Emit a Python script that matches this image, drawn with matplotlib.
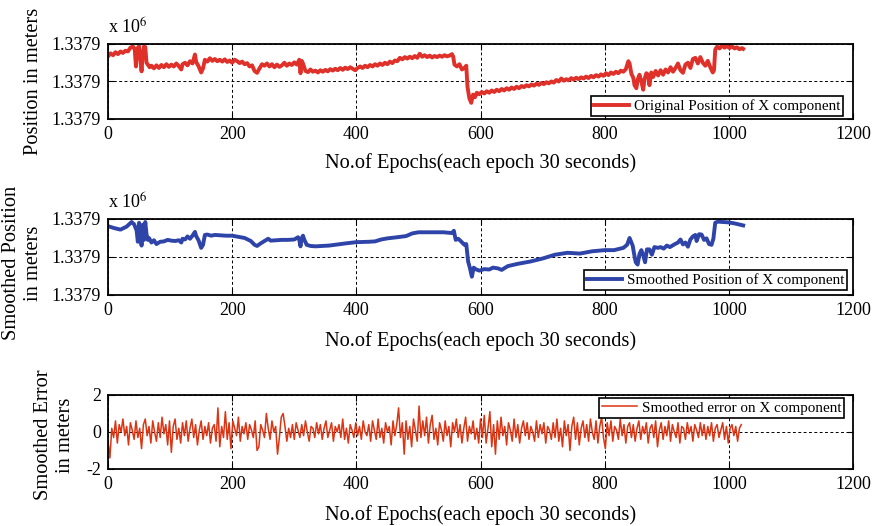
import numpy as np
import matplotlib
matplotlib.use("Agg")
import matplotlib.pyplot as plt
from matplotlib.ticker import FuncFormatter

plt.rcParams["font.family"] = ["Liberation Serif", "DejaVu Serif"]
plt.rcParams["mathtext.fontset"] = "stix"
plt.rcParams["axes.unicode_minus"] = False

# ---------------------------------------------------------------------------
# Data (positions as metres above BASE, error in metres)
# ---------------------------------------------------------------------------
BASE = 1337890.0

orig_epoch = [
    0, 4, 8, 12, 16, 20, 24, 28, 32, 36, 40, 43, 45, 47, 50, 52, 54, 56, 58, 60,
    62, 64, 67, 70, 74, 78, 82, 86, 90, 94, 98, 102, 106, 110, 114, 118, 120, 124, 128, 132,
    136, 140, 142, 146, 150, 153, 156, 160, 164, 168, 172, 176, 180, 184, 188, 192, 196, 200, 204, 208,
    212, 216, 220, 224, 228, 232, 236, 240, 244, 248, 252, 256, 260, 264, 268, 272, 276, 280, 284, 288,
    292, 296, 300, 304, 308, 310, 312, 314, 318, 322, 326, 330, 334, 338, 342, 346, 350, 354, 358, 362,
    366, 370, 374, 378, 382, 386, 390, 394, 398, 402, 406, 410, 414, 418, 422, 426, 430, 434, 438, 442,
    446, 450, 454, 458, 462, 466, 470, 474, 478, 482, 486, 490, 494, 498, 502, 506, 510, 514, 518, 522,
    526, 530, 534, 538, 542, 546, 550, 554, 556, 558, 562, 566, 570, 574, 577, 579, 582, 585, 588, 591,
    594, 598, 602, 606, 610, 614, 618, 622, 626, 630, 634, 638, 642, 646, 650, 654, 658, 662, 666, 670,
    674, 678, 682, 686, 690, 694, 698, 702, 706, 710, 714, 718, 722, 726, 730, 734, 738, 742, 746, 750,
    754, 758, 762, 766, 770, 774, 778, 782, 786, 790, 794, 798, 802, 806, 810, 814, 818, 822, 826, 830,
    834, 838, 840, 843, 846, 848, 851, 853, 856, 859, 862, 864, 867, 870, 872, 875, 878, 882, 886, 890,
    894, 898, 902, 906, 910, 914, 918, 922, 926, 930, 934, 938, 942, 946, 950, 954, 958, 962, 966, 970,
    974, 976, 978, 981, 985, 989, 993, 997, 1001, 1005, 1009, 1013, 1017, 1021, 1023,
]
orig_pos = [
    16.7, 17.5, 17.0, 17.8, 17.3, 18.0, 17.6, 18.2, 18.0, 19.0, 19.4, 18.5, 14.0, 18.8, 19.4, 16.0, 12.7, 17.5, 19.4, 19.2,
    15.0, 14.5, 13.8, 14.2, 13.5, 14.3, 13.6, 14.4, 13.8, 14.6, 13.9, 14.5, 14.0, 14.8, 14.1, 13.2, 14.6, 15.0, 14.3, 15.4,
    14.8, 17.2, 15.2, 14.0, 12.4, 13.5, 15.8, 15.3, 16.2, 15.5, 16.0, 15.4, 15.8, 15.3, 15.9, 15.2, 15.6, 15.0, 15.8, 15.4,
    14.9, 15.3, 14.6, 14.9, 14.0, 14.3, 12.8, 12.3, 13.5, 14.6, 14.2, 14.8, 14.0, 14.6, 13.8, 14.5, 13.9, 14.3, 15.0, 14.2,
    14.8, 14.4, 15.1, 14.5, 15.8, 12.2, 15.5, 14.8, 12.8, 12.5, 13.2, 12.6, 12.9, 12.4, 13.0, 12.6, 13.1, 12.7, 13.3, 12.9,
    13.4, 13.0, 13.6, 13.1, 13.7, 13.3, 13.8, 13.4, 13.0, 13.6, 14.0, 13.6, 14.2, 13.8, 14.4, 14.0, 14.6, 14.2, 14.8, 14.4,
    15.0, 14.6, 15.3, 14.9, 15.6, 15.4, 16.3, 15.9, 16.5, 16.1, 16.6, 16.2, 16.8, 16.3, 17.4, 16.6, 17.0, 16.5, 16.9, 16.4,
    16.8, 16.5, 16.9, 16.6, 17.0, 16.7, 16.9, 17.3, 16.6, 14.5, 14.0, 14.6, 13.2, 13.6, 14.2, 8.5, 5.5, 4.3, 6.5, 5.8,
    7.0, 6.6, 7.2, 6.8, 7.4, 7.0, 7.6, 7.2, 7.8, 7.4, 8.0, 7.6, 8.2, 7.8, 8.4, 8.0, 8.6, 8.2, 8.8, 8.5,
    9.0, 8.7, 9.2, 8.9, 9.4, 9.1, 9.6, 9.3, 9.8, 9.5, 10.0, 9.7, 10.4, 10.0, 10.8, 10.2, 10.6, 10.3, 10.9, 10.5,
    11.0, 10.6, 11.1, 10.8, 11.3, 10.9, 11.5, 11.1, 11.7, 11.3, 11.9, 11.5, 12.2, 11.7, 12.4, 12.0, 12.6, 12.2, 12.9, 12.6,
    13.3, 15.4, 14.8, 12.0, 11.0, 9.0, 8.2, 10.5, 11.8, 10.0, 7.8, 10.5, 12.2, 11.8, 9.0, 12.4, 11.2, 12.8, 11.6, 13.0,
    11.8, 13.2, 12.4, 13.8, 12.6, 13.6, 14.8, 13.0, 12.3, 14.5, 15.0, 13.6, 16.0, 16.3, 14.8, 16.5, 15.0, 14.2, 15.5, 13.8,
    12.4, 13.0, 18.5, 19.3, 18.8, 19.6, 19.0, 19.5, 18.9, 19.4, 18.8, 19.1, 18.6, 18.9, 18.7,
]

smooth_epoch = [
    0, 10, 20, 30, 38, 42, 46, 48, 50, 52, 54, 56, 58, 60, 62, 64, 66, 70, 74, 78,
    84, 90, 96, 102, 108, 114, 118, 120, 124, 128, 132, 136, 140, 142, 146, 150, 153, 156, 160, 166,
    172, 180, 190, 200, 210, 220, 230, 236, 240, 246, 252, 258, 262, 270, 280, 290, 300, 306, 308, 310,
    312, 314, 316, 320, 326, 334, 344, 356, 370, 384, 400, 420, 430, 440, 450, 466, 480, 490, 500, 520,
    540, 554, 557, 560, 564, 568, 574, 577, 580, 583, 586, 589, 592, 598, 606, 614, 620, 628, 634, 644,
    660, 680, 700, 720, 740, 760, 780, 800, 815, 830, 836, 840, 845, 848, 850, 853, 856, 859, 862, 865,
    868, 872, 876, 880, 886, 890, 895, 900, 905, 912, 918, 922, 926, 930, 934, 938, 942, 946, 948, 952,
    956, 960, 964, 968, 972, 975, 978, 982, 990, 1000, 1010, 1023,
]
smooth_pos = [
    18.1, 17.6, 17.2, 18.0, 19.2, 18.6, 17.0, 14.0, 19.0, 16.5, 13.0, 18.5, 14.5, 19.2, 16.0, 14.5, 15.0, 13.8, 14.4, 13.4,
    14.0, 14.1, 14.5, 14.3, 14.2, 14.4, 13.8, 14.8, 14.6, 15.4, 14.8, 15.6, 16.6, 15.5, 14.3, 12.4, 13.2, 15.8, 15.9, 15.6,
    15.8, 15.7, 15.6, 15.6, 15.3, 15.0, 14.2, 13.2, 12.9, 13.6, 14.2, 14.8, 14.3, 14.4, 14.5, 14.5, 14.6, 15.2, 14.5, 12.8,
    15.0, 15.6, 14.6, 13.2, 12.9, 12.8, 12.9, 13.0, 13.3, 13.6, 13.9, 14.0, 14.1, 14.6, 14.9, 15.2, 15.5, 16.2, 16.5, 16.5,
    16.5, 16.3, 16.9, 14.5, 14.8, 14.2, 13.2, 13.4, 8.8, 7.0, 4.8, 7.2, 6.8, 6.4, 6.8, 6.7, 7.2, 7.0, 6.6, 7.6,
    8.2, 8.8, 9.6, 10.6, 11.1, 10.9, 11.5, 11.8, 11.8, 12.4, 13.2, 15.0, 13.0, 10.2, 8.6, 8.0, 10.8, 11.8, 10.4, 8.6,
    12.0, 12.0, 10.6, 12.6, 12.4, 12.6, 12.2, 13.0, 12.6, 13.3, 13.8, 14.6, 13.3, 13.8, 12.7, 14.6, 15.4, 15.8, 14.2, 16.0,
    15.9, 14.5, 14.9, 13.4, 13.2, 14.8, 19.0, 19.3, 19.2, 19.1, 18.8, 18.3,
]

# smoothed error sampled every 3 epochs (0 .. 1020)
error_epoch = np.arange(0, 1021, 3)
error_m = [
    -0.5, -1.4, 0.2, -0.3, 0.6, -0.6, 0.4, 0.0, 0.7, -0.2, 0.3, -0.7, 0.5, 0.1, -0.4, 0.6, -0.3, 0.2, -0.9, 0.4,
    0.7, -0.2, 0.3, -0.6, 0.6, 0.0, -0.5, 0.5, -0.3, 0.8, -0.1, 0.4, -0.7, 0.6, -1.1, 0.3, 0.7, -0.4, 0.2, -0.6,
    0.5, -0.2, 0.6, -0.5, 0.2, 0.7, -0.3, 0.4, -0.7, 0.1, 0.6, -0.4, 0.3, -0.2, 0.5, -0.6, 0.2, 0.4, -0.5, 1.3,
    -0.8, 0.3, -0.3, 1.1, -0.4, 0.5, -0.9, 0.6, 0.2, -0.2, 0.8, -0.5, 0.3, -0.1, 0.5, -0.4, 0.4, 0.1, -0.3, 0.6,
    -1.0, -0.8, 0.4, 0.1, -0.3, 1.0, 0.2, -0.4, 0.6, 0.0, 0.3, -1.2, -0.3, 0.8, 1.0, 0.3, -0.5, 0.2, -0.3, 0.4,
    -0.4, 0.5, 0.1, -0.3, 0.4, -0.2, 0.6, 0.0, -0.5, 0.3, 0.2, -0.3, 0.5, -0.1, 0.4, -0.4, 0.2, 0.6, -0.3, 0.1,
    0.5, -0.5, 0.3, 0.0, 0.4, -0.3, 0.7, -0.4, 0.2, -0.6, 0.4, 0.1, -0.3, 0.5, -0.2, 0.3, -0.4, 0.6, 0.0, -0.2,
    0.4, -0.5, 0.6, 0.1, -0.4, 0.7, -0.3, 0.2, -0.6, 0.5, 0.0, 0.3, -0.7, 0.6, -0.2, 0.4, 1.3, -0.3, 0.5, -1.2,
    0.6, -0.4, 0.3, -0.8, 0.7, 0.1, -0.5, 1.4, -0.3, 0.6, -0.2, 0.8, -0.6, 0.4, 0.9, -0.4, 0.2, -0.7, 0.5, 0.1,
    -0.5, 0.6, -0.2, 0.3, -0.8, 0.5, 0.0, 0.7, -0.3, 0.4, -0.6, 0.2, 0.8, -0.5, 0.3, -0.1, 0.6, -0.4, 0.2, -0.6,
    0.7, -0.3, 0.9, -0.6, 0.2, 1.1, -0.8, 0.4, -1.2, 0.6, -0.4, 0.8, -0.2, 0.3, -0.7, 0.5, 0.1, -0.5, 0.7, -0.3,
    0.4, -0.6, 0.2, 0.6, -0.2, 0.5, -0.4, 0.3, 0.0, -0.5, 0.6, -0.3, 0.4, -0.1, 0.5, -0.6, 0.3, 0.1, -0.4, 0.5,
    -0.3, 0.7, -0.5, 0.2, -0.8, 0.6, -0.2, 0.4, -1.0, 0.3, 0.8, -0.4, 0.5, -0.7, 0.2, 0.6, -0.3, 0.4, -0.5, 0.7,
    0.0, -0.4, 0.6, -0.6, 0.3, 0.8, -0.3, -0.9, 0.5, -0.2, 0.6, -0.5, 0.3, 0.1, -0.4, 0.7, -0.2, 0.4, -0.6, 0.3,
    0.5, -0.3, 0.4, -0.5, 0.2, 0.6, -0.4, 0.3, -0.1, 0.5, -0.6, 0.2, 0.4, -0.3, 0.6, -0.8, 0.1, 0.5, -0.4, 0.3,
    -0.2, 0.6, -0.5, 0.4, 0.0, -0.3, 0.5, -0.6, 0.3, 0.2, -0.4, 0.5, -0.1, 0.3, -0.5, 0.4, 0.1, -0.3, 0.5, -0.2,
    0.4, -0.4, 0.3, -0.2, 0.5, -0.5, 0.2, 0.4, -0.3, 0.1, 0.5, -0.4, 0.3, -0.6, 0.2, 0.4, -0.2, 0.3, -0.5, 0.2,
    0.4,
]

XLABEL = "No.of Epochs(each epoch 30 seconds)"
LABEL_FS = 14.7
TICK_FS = 13


def style_axes(ax, xlabel_pad):
    ax.set_xlim(0, 1200)
    ax.set_xticks([0, 200, 400, 600, 800, 1000, 1200])
    ax.tick_params(direction="in", top=True, right=True, length=4, labelsize=TICK_FS,
                   width=0.8, pad=5)
    for s in ax.spines.values():
        s.set_linewidth(1.3)
    ax.grid(True, color="black", ls=(0, (3, 2.5)), lw=0.7)
    ax.set_xlabel(XLABEL, fontsize=LABEL_FS, labelpad=xlabel_pad)


fig = plt.figure(figsize=(8.79, 5.26), dpi=100)
ax1 = fig.add_axes([0.1229, 0.7738, 0.8476, 0.1426])
ax2 = fig.add_axes([0.1229, 0.4392, 0.8476, 0.1445])
ax3 = fig.add_axes([0.1229, 0.1084, 0.8476, 0.1407])

pos_fmt = FuncFormatter(lambda v, _: f"{v / 1e6:.4f}")

# Panel 1: original position
ax1.plot(orig_epoch, BASE + np.array(orig_pos), color="#E0302A", lw=2.8,
         label="Original Position of X component")
style_axes(ax1, 7.5)
ax1.set_ylim(BASE, BASE + 20)
ax1.set_yticks([BASE, BASE + 10, BASE + 20])
ax1.yaxis.set_major_formatter(pos_fmt)
ax1.set_ylabel("Position in meters", fontsize=LABEL_FS)
ax1.yaxis.set_label_coords(-0.087, 0.5)
ax1.text(0, 1.08, r"x 10$^{6}$", transform=ax1.transAxes, fontsize=13,
         ha="left", va="bottom")

# Panel 2: smoothed position
ax2.plot(smooth_epoch, BASE + np.array(smooth_pos), color="#2E44A8", lw=2.8,
         label="Smoothed Position of X component")
style_axes(ax2, 9)
ax2.set_ylim(BASE, BASE + 20)
ax2.set_yticks([BASE, BASE + 10, BASE + 20])
ax2.yaxis.set_major_formatter(pos_fmt)
ax2.set_ylabel("Smoothed Position\nin meters", fontsize=LABEL_FS, linespacing=1.2)
ax2.yaxis.set_label_coords(-0.087, 0.42)
ax2.text(0, 1.08, r"x 10$^{6}$", transform=ax2.transAxes, fontsize=13,
         ha="left", va="bottom")

# Panel 3: smoothed error
ax3.plot(error_epoch, error_m, color="#DC3514", lw=1.1,
         label="Smoothed error on X component")
style_axes(ax3, 9)
ax3.set_ylim(-2, 2)
ax3.set_yticks([-2, 0, 2])
ax3.set_ylabel("Smoothed Error\nin meters", fontsize=LABEL_FS, linespacing=1.2)
ax3.yaxis.set_label_coords(-0.045, 0.46)

leg_kw = dict(fontsize=10.9, frameon=True, fancybox=False, framealpha=1,
              edgecolor="black", borderaxespad=0, borderpad=0.2,
              handlelength=2.3, handletextpad=0.3)
for ax, loc, anchor in [(ax1, "lower right", (0.9866, 0.04)),
                        (ax2, "lower right", (0.992, 0.066)),
                        (ax3, "upper right", (0.988, 0.959))]:
    leg = ax.legend(loc=loc, bbox_to_anchor=anchor, **leg_kw)
    leg.get_frame().set_linewidth(1.2)

fig.savefig("out.png", dpi=100)
